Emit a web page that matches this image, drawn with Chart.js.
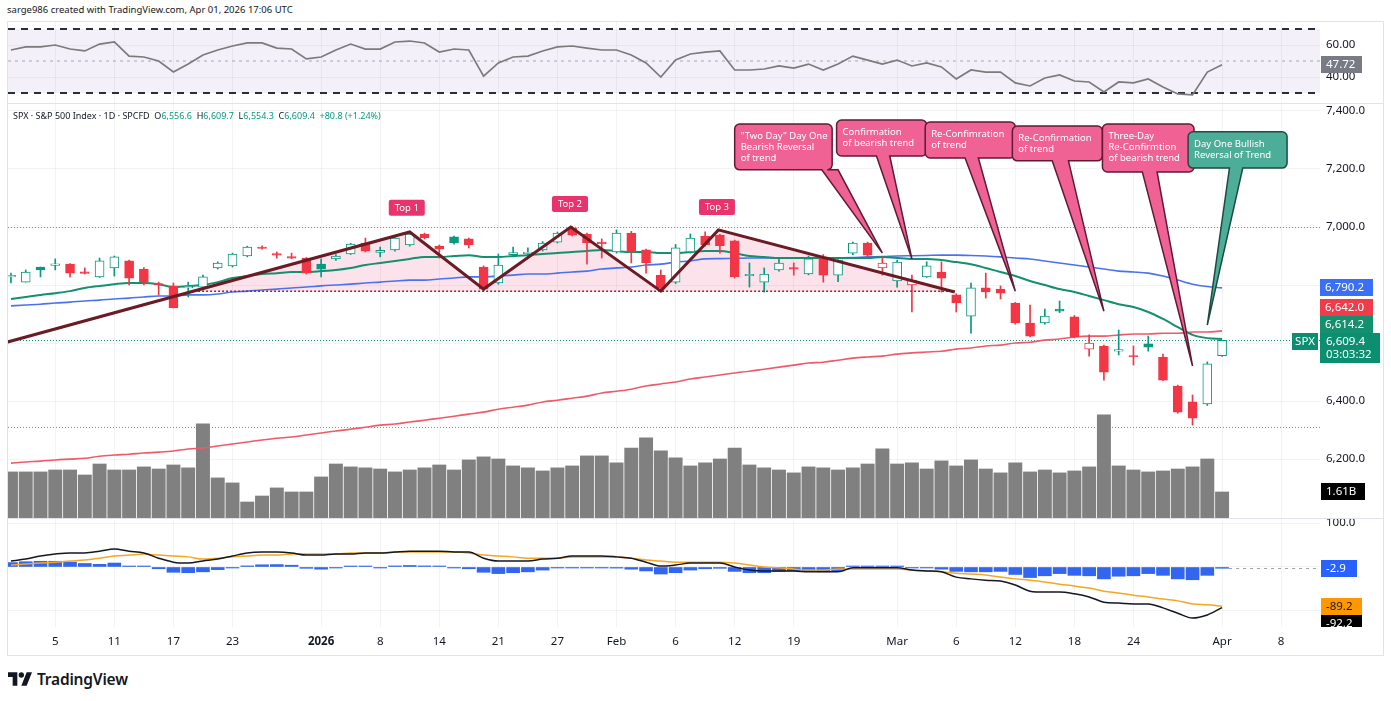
<!DOCTYPE html>
<html>
<head>
<meta charset="utf-8">
<title>SPX 1D</title>
<script src="https://cdn.jsdelivr.net/npm/chart.js@4.4.1/dist/chart.umd.min.js"></script>
<style>
  body { margin: 0; background: #fff; font-family: "Noto Sans", "DejaVu Sans", sans-serif; color: #131722; }
  #wrap { position: relative; width: 1391px; height: 701px; overflow: hidden; background: #fff; }
  #wrap canvas { position: absolute; left: 0; }
  .ln { position: absolute; background: #e0e3eb; }
  #hdr { position: absolute; left: 7px; top: 3px; font-size: 9.5px; white-space: nowrap; }
  #legend { position: absolute; left: 13px; top: 109px; font-size: 9px; white-space: nowrap; }
  #legend .v { color: #089981; }
  #logo { position: absolute; left: 8px; top: 668px; display: flex; align-items: center; gap: 5px; font-size: 15.5px; font-weight: 600; letter-spacing: -0.2px; }
</style>
</head>
<body>
<div id="wrap">
  <div id="hdr">sarge986 created with TradingView.com, Apr 01, 2026 17:06 UTC</div>
  <canvas id="rsi" width="1391" height="81" style="top:22px"></canvas>
  <canvas id="main" width="1391" height="414" style="top:104px"></canvas>
  <canvas id="macd" width="1391" height="137" style="top:519px"></canvas>
  <div class="ln" style="left:7px;top:21px;width:1377px;height:1px"></div>
  <div class="ln" style="left:7px;top:103px;width:1377px;height:1px"></div>
  <div class="ln" style="left:7px;top:518px;width:1377px;height:1px"></div>
  <div class="ln" style="left:7px;top:655px;width:1377px;height:1px"></div>
  <div class="ln" style="left:7px;top:21px;width:1px;height:635px"></div>
  <div class="ln" style="left:1383px;top:21px;width:1px;height:635px"></div>
  <div id="legend">SPX · S&amp;P 500 Index · 1D · SPCFD &nbsp;O<span class="v">6,556.6</span> &nbsp;H<span class="v">6,609.7</span> &nbsp;L<span class="v">6,554.3</span> &nbsp;C<span class="v">6,609.4</span> &nbsp;<span class="v">+80.8 (+1.24%)</span></div>
  <div id="logo"><svg width="24" height="16" viewBox="0 0 36 24"><path d="M14 22H7V9H0V2h14z" fill="#131722"/><circle cx="20" cy="6" r="4" fill="#131722"/><path d="M28 22h-8l8-20h8z" fill="#131722"/></svg>TradingView</div>
</div>
<script>
// ---- data ----
const tickPos = [3, 7, 11, 15, 21, 25, 29, 33, 37, 41, 45, 49, 53, 60, 64, 68, 72, 76, 82, 86];
const tickLabels = ['5', '11', '17', '23', '2026', '8', '14', '21', '27', 'Feb', '6', '12', '19', 'Mar', '6', '12', '18', '24', 'Apr', '8'];

const opens = [6828,6810,6862,6868,6872,6843,6828,6859,6883,6855,
  6805,6797,6790,6793,6859,6866,6900,6931,6905,6895,
  6893,6872,6890,6907,6945,6912,6921,6938,6976,6934,
  6966,6959,6862,6807,6905,6908,6921,6948,6997,6976,
  6948,6914,6979,6921,6834,6810,6914,6969,6972,6952,
  6832,6810,6852,6858,6838,6897,6834,6910,6945,6859,
  6814,6800,6828,6845,6766,6693,6790,6786,6738,6669,
  6669,6717,6690,6579,6590,6572,6555,6597,6552,6452,
  6397,6390,6556.6];
const highs = [6841,6852,6862,6890,6874,6859,6893,6900,6886,6860,
  6810,6807,6810,6834,6880,6910,6934,6935,6914,6910,
  6895,6890,6905,6944,6962,6931,6966,6980,6979,6938,
  6969,6962,6866,6907,6931,6928,6950,6983,7002,6979,
  6959,6990,6985,6924,6852,6940,6976,6983,6975,6955,
  6876,6859,6893,6876,6900,6905,6888,6948,6948,6897,
  6886,6834,6880,6880,6770,6807,6841,6797,6740,6731,
  6717,6745,6695,6628,6593,6645,6590,6624,6562,6455,
  6421,6535,6609.7];
const lows = [6807,6810,6828,6852,6828,6838,6826,6831,6800,6800,
  6766,6721,6759,6790,6855,6862,6897,6924,6893,6891,
  6838,6828,6885,6905,6914,6897,6917,6934,6959,6893,
  6941,6928,6780,6803,6897,6900,6917,6945,6969,6872,
  6893,6910,6876,6841,6786,6805,6910,6934,6910,6824,
  6793,6776,6848,6834,6835,6810,6812,6905,6898,6834,
  6793,6707,6826,6776,6707,6634,6755,6752,6665,6621,
  6665,6705,6618,6555,6472,6559,6524,6572,6470,6358,
  6317,6385,6554.3];
const closes = [6830,6845,6852,6870,6841,6840,6883,6897,6824,6810,
  6800,6721,6793,6828,6876,6907,6931,6926,6903,6893,
  6841,6855,6900,6941,6917,6920,6962,6976,6962,6924,
  6945,6938,6786,6869,6912,6914,6945,6979,6972,6945,
  6943,6979,6914,6876,6790,6928,6962,6938,6936,6828,
  6836,6838,6876,6855,6890,6834,6886,6945,6903,6876,
  6879,6817,6866,6824,6738,6790,6776,6772,6669,6624,
  6693,6710,6621,6600,6500,6577,6552,6586,6472,6362,
  6341,6528.6,6609.4];
// volume, billions
const volume = [2.85,2.85,2.85,2.97,2.97,2.66,3.34,2.97,2.97,3.16,
  3.03,3.28,3.10,5.82,2.48,2.17,0.99,1.36,1.86,1.61,
  1.61,2.54,3.34,3.16,3.10,3.03,2.85,2.97,3.10,3.28,
  2.97,3.59,3.78,3.65,3.22,3.10,2.91,3.10,3.22,3.84,
  3.84,3.41,4.33,4.95,4.15,3.72,3.22,3.41,3.65,4.33,
  3.28,3.10,2.97,2.79,3.16,3.10,2.97,3.10,3.34,4.27,
  3.34,3.41,3.03,3.53,3.22,3.59,3.03,2.79,3.41,2.85,
  2.97,2.79,2.91,3.16,6.38,3.22,2.97,2.85,2.91,3.03,
  3.16,3.65,1.61];
const ma20 = [6752,6759,6766,6772,6779,6790,6797,6803,6807,6807,
  6803,6793,6797,6800,6810,6824,6831,6838,6841,6845,
  6845,6848,6852,6859,6869,6876,6883,6890,6897,6897,
  6900,6903,6897,6897,6900,6903,6907,6910,6914,6917,
  6921,6917,6914,6914,6910,6910,6914,6917,6917,6910,
  6900,6897,6893,6893,6893,6893,6893,6893,6893,6897,
  6893,6890,6890,6886,6879,6872,6859,6845,6831,6814,
  6800,6786,6776,6762,6748,6734,6724,6707,6683,6655,
  6628,6617,6614.2];
const ma50 = [6728,6731,6734,6738,6741,6745,6748,6752,6755,6759,
  6762,6762,6766,6766,6769,6776,6779,6783,6786,6790,
  6793,6797,6800,6803,6807,6810,6814,6817,6817,6821,
  6824,6828,6828,6831,6834,6838,6838,6841,6845,6848,
  6855,6859,6862,6869,6872,6879,6883,6890,6891,6892,
  6893,6893,6893,6893,6893,6893,6894,6895,6897,6898,
  6900,6901,6902,6903,6903,6902,6900,6897,6893,6890,
  6883,6876,6869,6862,6855,6848,6845,6841,6831,6817,
  6803,6795,6790.2];
const ma200 = [6186,6190,6193,6197,6200,6203,6210,6214,6217,6221,
  6224,6228,6235,6238,6245,6252,6259,6266,6272,6276,
  6283,6290,6297,6303,6310,6317,6321,6328,6334,6341,
  6348,6355,6362,6372,6379,6386,6397,6403,6410,6417,
  6428,6434,6441,6452,6459,6466,6476,6483,6490,6497,
  6503,6510,6517,6524,6531,6534,6541,6548,6552,6555,
  6562,6566,6569,6572,6579,6583,6590,6593,6600,6603,
  6610,6614,6621,6624,6624,6628,6631,6631,6634,6634,
  6638,6638,6642.0];
const rsi = [56.9,58.8,58.8,60.0,57.5,56.3,60.6,61.9,53.1,52.5,
  50.0,43.1,48.1,53.8,56.9,59.4,61.3,61.3,58.1,57.5,
  51.3,52.5,56.9,60.6,57.5,57.5,61.9,62.5,61.3,55.6,
  57.5,56.9,40.6,48.8,52.5,53.1,56.3,58.8,59.4,58.1,
  56.9,56.9,53.8,48.8,40.0,50.6,54.4,55.6,56.3,44.4,
  44.4,45.0,46.9,45.6,48.1,44.4,48.1,53.1,50.6,48.1,
  50.6,46.9,48.8,46.3,38.8,44.4,43.1,43.1,36.3,34.4,
  39.4,41.3,37.5,36.9,30.6,36.9,36.3,38.8,33.8,29.4,
  28.8,43.1,47.72];
const macd = [13.6,18,25,29.5,32,32,36,41,36,32,
  20,11,9,13.6,18,25,32,34,34,32,
  27,27,29.5,29.5,32,32,34,36,36,36,
  34,34,20,13.6,13.6,13.6,18,20,25,25,
  25,23,20,11,2,4.5,9,9,9,0,
  -7,-9,-9,-9,-11,-11,-11,-2,-2,-2,
  -2,-7,-9,-11,-23,-27,-30,-32,-41,-55,
  -57,-57,-61,-68,-80,-82,-84,-84,-93,-105,
  -116,-109,-92.2];
const signal = [4.5,7,9,11,13.6,16,20,25,27,29.5,
  27,25,23,18,20,23,25,27,27,29.5,
  29.5,29.5,29.5,32,32,32,34,34,34,34,
  34,32,27,25,23,20,20,20,23,23,
  23,23,20,16,13.6,11,11,11,11,9,
  4.5,0,-2,-4.5,-7,-7,-4.5,-4.5,-4.5,-4.5,
  -4.5,-7,-9,-11,-14,-16,-18,-23,-27,-30,
  -34,-39,-43,-48,-55,-59,-64,-68,-73,-77,
  -84,-86,-89.2];
const hist = [10,12,13,13,11,8,6,9,2,0.5,
  -4,-12,-13,-11,-6,-1.5,2.5,5,5.5,4,
  -3,-5,-0.5,1.5,1.5,-2,2.5,3.5,2.5,1,
  -2,-4,-12,-15,-13,-11,-7,-0.5,-1,-1,
  -1.5,-2.5,-5,-9,-16,-13,-7,-4,-3,-10,
  -13,-13,-10,-9,-10,-11,-9,1.5,1.5,1.5,
  1.5,-1,-2,-5,-10,-11,-11,-10,-17,-24,
  -20,-15,-19,-20,-27,-21,-20,-15,-19,-27,
  -29,-19,-2.9];

// drawings on the price pane (bar index, price)
const mTrend = [[-0.27, 6603], [27.0, 6983], [32.0, 6786], [37.9, 7000], [44.0, 6779], [47.9, 6990], [63.9, 6776]];
const mFill = [[12.36, 6779], [27.0, 6983], [32.0, 6786], [37.9, 7000], [44.0, 6779], [47.9, 6990], [63.9, 6776]];
const neckline = 6779;
const neckSpan = [12.4, 63.9];
const hLines = [7000, 6310];
const topTags = [['Top 1', 26.8, 7066], ['Top 2', 37.85, 7079], ['Top 3', 47.8, 7069]];
const callouts = [
  { lines: ['"Two Day" Day One', 'Bearish Reversal', 'of trend'], box: [49.0, 55.6, 7355, 7197], base: [54.9, 56.0], tip: [59.0, 6910] },
  { lines: ['Confirmation', 'of bearish trend'], box: [55.9, 62.0, 7369, 7245], base: [58.6, 59.5], tip: [61.0, 6890] },
  { lines: ['Re-Confimration', 'of trend'], box: [61.9, 68.0, 7362, 7238], base: [64.6, 65.5], tip: [68.0, 6779] },
  { lines: ['Re-Confirmation', 'of trend'], box: [67.8, 73.9, 7348, 7228], base: [70.5, 71.6], tip: [74.0, 6710] },
  { lines: ['Three-Day', 'Re-Confirmtion', 'of bearish trend'], box: [73.9, 80.1, 7355, 7190], base: [76.6, 77.6], tip: [80.0, 6521] },
  { lines: ['Day One Bullish', 'Reversal of Trend'], box: [79.7, 86.4, 7328, 7203], base: [82.5, 83.4], tip: [81.0, 6662], bull: true }
];

// ---- chart setup ----
const FONT = '"Noto Sans", "DejaVu Sans", sans-serif';
Chart.defaults.font.family = FONT;
Chart.defaults.color = '#131722';
const UP = '#089981', DOWN = '#f23645';
const GRID = 'rgba(42,46,57,0.06)';
const X_MIN = -0.2, X_MAX = 88.63;

const idx = closes.map((_, i) => i);
const pts = arr => arr.map((v, i) => ({ x: i, y: v }));
const candleColor = idx.map(i => closes[i] >= (i ? closes[i - 1] : opens[i]) ? UP : DOWN);
const fmt1 = v => v.toLocaleString('en-US', { minimumFractionDigits: 1, maximumFractionDigits: 1 });

function xAxis(withLabels) {
  return {
    type: 'linear', min: X_MIN, max: X_MAX, offset: false,
    afterBuildTicks: s => { s.ticks = tickPos.map(v => ({ value: v })); },
    afterFit: s => { s.height = withLabels ? 29 : 0; s.paddingLeft = 0; s.paddingRight = 0; },
    grid: { color: GRID, drawTicks: false, offset: false },
    border: { display: false },
    ticks: {
      display: withLabels, autoSkip: false, maxRotation: 0, padding: 8,
      font: c => ({ family: FONT, size: 11.5, weight: c.tick && c.tick.value === 21 ? 'bold' : 'normal' }),
      callback: v => tickLabels[tickPos.indexOf(v)]
    }
  };
}

function yAxis(min, max, ticks, fmt) {
  return {
    position: 'right', min, max,
    afterBuildTicks: s => { s.ticks = ticks.map(v => ({ value: v })); },
    afterFit: s => { s.width = 63; s.paddingTop = 0; s.paddingBottom = 0; },
    grid: { color: GRID, drawTicks: false },
    border: { display: false },
    ticks: { padding: 6, font: { size: 11.5 }, callback: fmt }
  };
}

const baseOpts = {
  responsive: false, animation: false, events: [],
  layout: { padding: { left: 8, right: 8, top: 0, bottom: 0 } },
  plugins: { legend: { display: false }, tooltip: { enabled: false } }
};

function axisTag(ctx, x, yc, w, bg, fg, text) {
  const h = 17;
  ctx.fillStyle = bg;
  ctx.fillRect(x, Math.round(yc - h / 2), w, h);
  ctx.fillStyle = fg;
  ctx.font = '11.5px ' + FONT;
  ctx.textAlign = 'left';
  ctx.textBaseline = 'middle';
  ctx.fillText(text, x + 5, Math.round(yc - h / 2) + h / 2 + 0.5);
}

function roundBox(ctx, L, T, R, B, r) {
  ctx.moveTo(L + r, T);
  ctx.lineTo(R - r, T); ctx.arcTo(R, T, R, T + r, r);
  ctx.lineTo(R, B - r); ctx.arcTo(R, B, R - r, B, r);
}

// ---- RSI pane ----
const rsiDeco = {
  id: 'rsiDeco',
  beforeDatasetsDraw(chart) {
    const { ctx, chartArea: a, scales: { y } } = chart;
    const y70 = y.getPixelForValue(70), y30 = y.getPixelForValue(30), y50 = y.getPixelForValue(50);
    ctx.save();
    ctx.fillStyle = 'rgba(126,87,194,0.09)';
    ctx.fillRect(a.left, y70, a.right - a.left, y30 - y70);
    ctx.strokeStyle = '#2a2e39'; ctx.lineWidth = 2; ctx.setLineDash([7, 6]);
    [y70, y30].forEach(p => { ctx.beginPath(); ctx.moveTo(a.left, p); ctx.lineTo(a.right, p); ctx.stroke(); });
    ctx.strokeStyle = 'rgba(120,123,134,0.6)'; ctx.lineWidth = 1; ctx.setLineDash([3, 4]);
    ctx.beginPath(); ctx.moveTo(a.left, y50); ctx.lineTo(a.right, y50); ctx.stroke();
    ctx.restore();
  },
  afterDraw(chart) {
    const { ctx, chartArea: a, scales: { y } } = chart;
    ctx.save();
    axisTag(ctx, a.right + 1, y.getPixelForValue(rsi[rsi.length - 1]), 41, '#787b86', '#fff', rsi[rsi.length - 1].toFixed(2));
    ctx.restore();
  }
};

new Chart(document.getElementById('rsi'), {
  type: 'line',
  data: { datasets: [{ data: pts(rsi), borderColor: '#7b7b7b', borderWidth: 1.7, pointRadius: 0, tension: 0 }] },
  options: { ...baseOpts, scales: { x: xAxis(false), y: yAxis(23.75, 74.4, [40, 60], v => v.toFixed(2)) } },
  plugins: [rsiDeco]
});

// ---- price pane ----
const mainDeco = {
  id: 'mainDeco',
  beforeDatasetsDraw(chart) {
    const { ctx, chartArea: a, scales: { y } } = chart;
    ctx.save();
    ctx.lineWidth = 1;
    ctx.setLineDash([1, 2]);
    ctx.strokeStyle = 'rgba(110,113,124,0.8)';
    hLines.forEach(p => {
      const py = Math.round(y.getPixelForValue(p)) + 0.5;
      ctx.beginPath(); ctx.moveTo(a.left, py); ctx.lineTo(a.right, py); ctx.stroke();
    });
    ctx.strokeStyle = UP;
    const ly = Math.round(y.getPixelForValue(closes[closes.length - 1])) + 0.5;
    ctx.beginPath(); ctx.moveTo(a.left, ly); ctx.lineTo(a.right, ly); ctx.stroke();
    ctx.restore();
  },
  afterDatasetsDraw(chart) {
    const { ctx, scales: { x, y } } = chart;
    ctx.save();
    // top tags
    ctx.font = '9.5px ' + FONT;
    ctx.textAlign = 'center'; ctx.textBaseline = 'middle';
    topTags.forEach(([t, i, p]) => {
      const cx = x.getPixelForValue(i), cy = y.getPixelForValue(p);
      ctx.fillStyle = '#e8336d';
      ctx.beginPath(); ctx.roundRect(cx - 18, cy - 8, 36, 16, 2); ctx.fill();
      ctx.fillStyle = '#fff';
      ctx.fillText(t, cx, cy + 0.5);
    });
    // callouts
    callouts.forEach(c => {
      const L = x.getPixelForValue(c.box[0]), R = x.getPixelForValue(c.box[1]);
      const T = y.getPixelForValue(c.box[2]), B = y.getPixelForValue(c.box[3]);
      const b0 = x.getPixelForValue(c.base[0]), b1 = x.getPixelForValue(c.base[1]);
      const tx = x.getPixelForValue(c.tip[0]), ty = y.getPixelForValue(c.tip[1]);
      const r = 5;
      ctx.beginPath();
      roundBox(ctx, L, T, R, B, r);
      ctx.lineTo(b1, B); ctx.lineTo(tx, ty); ctx.lineTo(b0, B);
      ctx.lineTo(L + r, B); ctx.arcTo(L, B, L, B - r, r);
      ctx.lineTo(L, T + r); ctx.arcTo(L, T, L + r, T, r);
      ctx.closePath();
      ctx.fillStyle = c.bull ? '#4cae98' : '#ef6293';
      ctx.strokeStyle = c.bull ? '#1e4a40' : '#5e1b33';
      ctx.lineWidth = 1.5;
      ctx.fill(); ctx.stroke();
      ctx.fillStyle = '#fff';
      ctx.font = '9.5px ' + FONT;
      ctx.textAlign = 'left'; ctx.textBaseline = 'middle';
      c.lines.forEach((t, k) => ctx.fillText(t, L + 6, T + 12 + k * 11));
    });
    ctx.restore();
  },
  afterDraw(chart) {
    const { ctx, chartArea: a, scales: { y, yv } } = chart;
    ctx.save();
    const last = closes[closes.length - 1];
    const ly = y.getPixelForValue(last) + 1;
    // last price with countdown
    ctx.fillStyle = '#0c8f70';
    ctx.fillRect(a.right, Math.round(ly - 8.5), 60, 30);
    ctx.fillStyle = '#fff';
    ctx.font = '11.5px ' + FONT; ctx.textAlign = 'left'; ctx.textBaseline = 'middle';
    ctx.fillText(fmt1(last), a.right + 6, Math.round(ly - 8.5) + 9);
    ctx.fillText('03:03:32', a.right + 6, Math.round(ly - 8.5) + 22);
    ctx.fillStyle = '#0c8f70';
    ctx.fillRect(a.right - 28, Math.round(ly - 8.5), 26, 17);
    ctx.fillStyle = '#fff';
    ctx.textAlign = 'center';
    ctx.fillText('SPX', a.right - 15, Math.round(ly - 8.5) + 9);
    // moving average tags, stacked upward from the price tag
    const tags = [
      { v: ma20[ma20.length - 1], bg: '#15906f' },
      { v: ma200[ma200.length - 1], bg: '#ef3b4a' },
      { v: ma50[ma50.length - 1], bg: '#3a6ff7' }
    ];
    let top = Math.round(ly - 8.5);
    tags.forEach(t => {
      const yc = Math.min(y.getPixelForValue(t.v), top - 8.5);
      axisTag(ctx, a.right, yc, 53, t.bg, '#fff', fmt1(t.v));
      top = Math.round(yc - 8.5);
    });
    // volume tag
    const vl = volume[volume.length - 1];
    axisTag(ctx, a.right + 1, yv.getPixelForValue(vl), 44, '#000', '#fff', vl.toFixed(2) + 'B');
    ctx.restore();
  }
};

new Chart(document.getElementById('main'), {
  type: 'line',
  data: {
    datasets: [
      { type: 'line', data: mTrend.map(([i, p]) => ({ x: i, y: p })), borderColor: '#6a1b24', borderWidth: 3, pointRadius: 0, tension: 0, order: 0 },
      { type: 'line', data: neckSpan.map(i => ({ x: i, y: neckline })), borderColor: '#8a2a38', borderWidth: 1.5, borderDash: [2, 2], pointRadius: 0, order: 1 },
      { type: 'bar', data: idx.map(i => ({ x: i, y: [opens[i], closes[i]] })), backgroundColor: idx.map(i => closes[i] > opens[i] ? '#ffffff' : candleColor[i]), borderColor: candleColor, borderWidth: 1, borderSkipped: false, barThickness: 9, minBarLength: 1.5, grouped: false, order: 2 },
      { type: 'bar', data: idx.map(i => ({ x: i, y: [lows[i], highs[i]] })), backgroundColor: candleColor, barThickness: 1, grouped: false, order: 3 },
      { type: 'line', data: pts(ma20), borderColor: '#14906d', borderWidth: 2, pointRadius: 0, cubicInterpolationMode: 'monotone', order: 4 },
      { type: 'line', data: pts(ma50), borderColor: '#4a72ee', borderWidth: 1.6, pointRadius: 0, cubicInterpolationMode: 'monotone', order: 5 },
      { type: 'line', data: pts(ma200), borderColor: '#ee5a68', borderWidth: 1.6, pointRadius: 0, cubicInterpolationMode: 'monotone', order: 6 },
      { type: 'bar', yAxisID: 'yv', data: pts(volume), backgroundColor: '#808080', barThickness: 13.3, grouped: false, order: 7 },
      { type: 'line', data: mFill.map(([i, p]) => ({ x: i, y: p })), borderWidth: 0, pointRadius: 0, fill: { value: neckline }, backgroundColor: 'rgba(233,30,99,0.13)', order: 8 }
    ]
  },
  options: {
    ...baseOpts,
    scales: {
      x: xAxis(false),
      y: yAxis(5997, 7424, [6200, 6400, 6600, 6800, 7000, 7200, 7400], v => (v === 6600 || v === 6800) ? '' : fmt1(v)),
      yv: { axis: 'y', display: false, min: 0, max: 25.6 }
    }
  },
  plugins: [mainDeco]
});

// ---- MACD pane ----
const macdDeco = {
  id: 'macdDeco',
  afterDraw(chart) {
    const { ctx, chartArea: a, scales: { x, y } } = chart;
    ctx.save();
    const h = hist[hist.length - 1];
    const hy = Math.round(y.getPixelForValue(h)) + 0.5;
    ctx.strokeStyle = 'rgba(120,123,134,0.7)'; ctx.setLineDash([3, 4]); ctx.lineWidth = 1;
    ctx.beginPath(); ctx.moveTo(x.getPixelForValue(hist.length - 1) + 7, hy); ctx.lineTo(a.right, hy); ctx.stroke();
    ctx.setLineDash([]);
    ctx.beginPath(); ctx.rect(a.right, a.top, 70, a.bottom - a.top); ctx.clip();
    const tags = [
      { v: h, bg: '#2962ff', fg: '#fff', w: 36 },
      { v: signal[signal.length - 1], bg: '#ff9800', fg: '#131722', w: 41 },
      { v: macd[macd.length - 1], bg: '#000', fg: '#fff', w: 41 }
    ];
    let bottom = -Infinity;
    tags.forEach(t => {
      const yc = Math.max(y.getPixelForValue(t.v), bottom + 8.5);
      axisTag(ctx, a.right + 1, yc, t.w, t.bg, t.fg, t.v.toFixed(1));
      bottom = yc + 8.5;
    });
    ctx.restore();
  }
};

new Chart(document.getElementById('macd'), {
  type: 'line',
  data: {
    datasets: [
      { type: 'line', data: pts(macd), borderColor: '#131722', borderWidth: 1.5, pointRadius: 0, cubicInterpolationMode: 'monotone', order: 0 },
      { type: 'line', data: pts(signal), borderColor: '#f5a623', borderWidth: 1.5, pointRadius: 0, cubicInterpolationMode: 'monotone', order: 1 },
      { type: 'bar', data: pts(hist), backgroundColor: '#3366f0', barThickness: 13, minBarLength: 1, grouped: false, order: 2 }
    ]
  },
  options: {
    ...baseOpts,
    scales: {
      x: xAxis(true),
      y: yAxis(-136.4, 109.1, [-100, 0, 100], v => v === 100 ? '100.0' : '')
    }
  },
  plugins: [macdDeco]
});
</script>
</body>
</html>
